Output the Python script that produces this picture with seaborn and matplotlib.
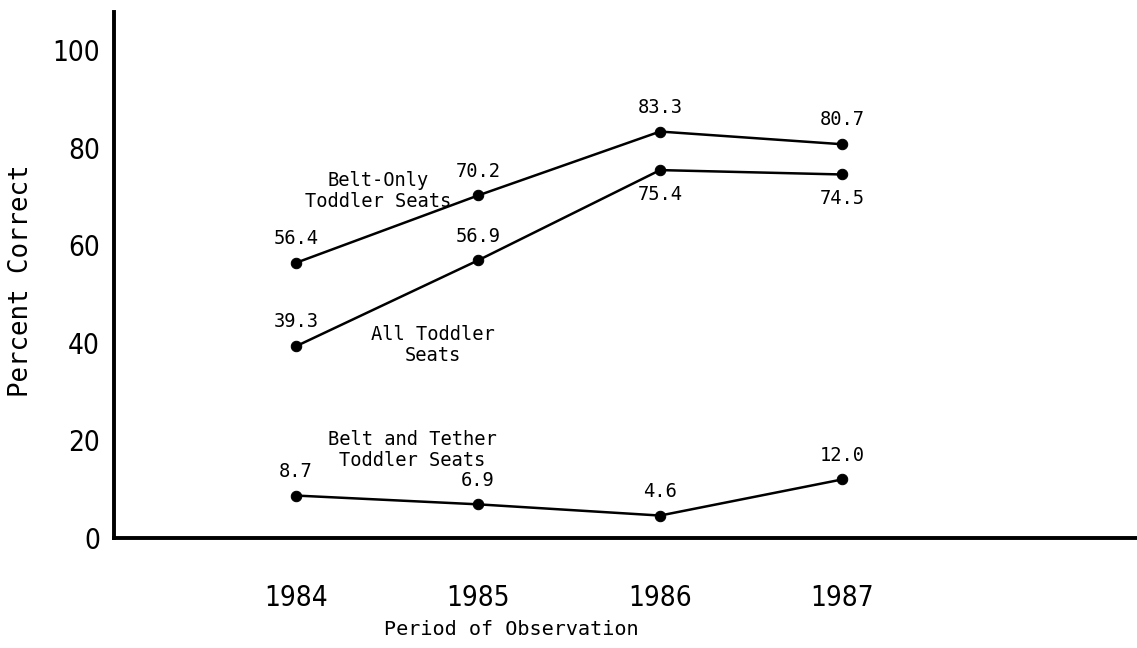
import matplotlib
matplotlib.use("Agg")
import matplotlib.pyplot as plt
import seaborn as sns
import pandas as pd

years = [1984, 1985, 1986, 1987]
belt_only = [56.4, 70.2, 83.3, 80.7]
all_toddler = [39.3, 56.9, 75.4, 74.5]
belt_tether = [8.7, 6.9, 4.6, 12.0]
y_ticks = [0, 20, 40, 60, 80, 100]

series_names = ["Belt-Only\nToddler Seats", "All Toddler\nSeats", "Belt and Tether\nToddler Seats"]
series_values = [belt_only, all_toddler, belt_tether]
# label placement: +1 above point, -1 below point
label_side = [[1, 1, 1, 1], [1, 1, -1, -1], [1, 1, 1, 1]]
series_label_pos = [(1984.45, 71.1), (1984.75, 39.5), (1984.64, 18.0)]

sns.set_theme(style="white")
plt.rcParams["font.family"] = ["DejaVu Sans"]

mono = ["DejaVu Sans Mono"]

fig = plt.figure(figsize=(11.37, 6.48), dpi=100)
ax = fig.add_axes([114 / 1137, 110 / 648, 1 - 114 / 1137, (538 - 12) / 648])

rows = []
for name, vals in zip(series_names, series_values):
    for yr, v in zip(years, vals):
        rows.append({"series": name, "year": yr, "pct": v})
df = pd.DataFrame(rows)

for name in series_names:
    sub = df[df["series"] == name]
    sns.lineplot(data=sub, x="year", y="pct", ax=ax, color="black", lw=1.8,
                 marker="o", markersize=7.5, markeredgecolor="black",
                 markerfacecolor="black", estimator=None, legend=False)

for vals, sides in zip(series_values, label_side):
    for yr, v, s in zip(years, vals, sides):
        ax.annotate(f"{v:.1f}", xy=(yr, v), xytext=(0, 17.5 * s),
                    textcoords="offset points", ha="center", va="center",
                    fontsize=13.5, family=mono, color="black")

for name, (lx, ly) in zip(series_names, series_label_pos):
    ax.text(lx, ly, name, ha="center", va="center", fontsize=13.5,
            family=mono, color="black", linespacing=1.15)

ax.set_xlim(1983.0, 1988.62)
ax.set_ylim(0, 107.8)
ax.set_xticks(years)
ax.set_xticklabels([str(y) for y in years])
ax.set_yticks(y_ticks)
ax.set_yticklabels([str(t) for t in y_ticks])

for lab in ax.get_xticklabels() + ax.get_yticklabels():
    lab.set_family(["DejaVu Sans"])
    lab.set_fontstretch("condensed")
    lab.set_fontsize(20)
    lab.set_color("black")

ax.tick_params(axis="y", direction="in", length=14, width=2, pad=10, colors="black")
ax.tick_params(axis="x", direction="in", length=11, width=2.5, pad=33, colors="black")

for side in ["top", "right"]:
    ax.spines[side].set_visible(False)
for side in ["left", "bottom"]:
    ax.spines[side].set_color("black")
    ax.spines[side].set_linewidth(2.8)

ax.set_xlabel("Period of Observation", fontsize=14.5, family=mono, color="black")
ax.xaxis.set_label_coords((511 - 114) / 1023, -0.156)
ax.set_ylabel("Percent Correct", fontsize=18.5, family=mono, color="black")
ax.yaxis.set_label_coords((34 - 114) / 1023, 0.49)

fig.savefig("out.png", dpi=100)
